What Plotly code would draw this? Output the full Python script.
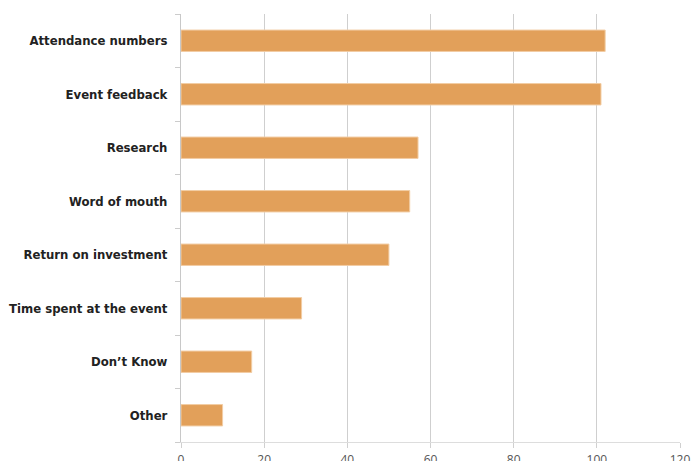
import plotly.graph_objects as go

# Survey: how event success is measured
categories = [
    "Attendance numbers",
    "Event feedback",
    "Research",
    "Word of mouth",
    "Return on investment",
    "Time spent at the event",
    "Don\u2019t Know",
    "Other",
]
responses = [102, 101, 57, 55, 50, 29, 17, 10]
x_ticks = [0, 20, 40, 60, 80, 100, 120]

BAR_COLOR = "#E2A05A"

fig = go.Figure(
    go.Bar(
        x=responses,
        y=categories,
        orientation="h",
        width=0.4,
        marker=dict(color=BAR_COLOR, line=dict(color="#F2CDA4", width=1)),
        hoverinfo="x+y",
    )
)

fig.update_layout(
    width=691,
    height=461,
    margin=dict(l=180.5, r=10.5, t=14, b=19),
    paper_bgcolor="white",
    plot_bgcolor="white",
    showlegend=False,
    bargap=0.6,
)

fig.update_xaxes(
    range=[0, 120],
    tickvals=x_ticks,
    ticktext=[str(v) for v in x_ticks],
    automargin=False,
    showgrid=True,
    gridcolor="#CFCFCF",
    gridwidth=1,
    zeroline=False,
    showline=True,
    linecolor="#DDDDDD",
    linewidth=1,
    ticks="outside",
    ticklen=5,
    tickcolor="#D0D0D0",
    ticklabelstandoff=2,
    tickfont=dict(family="Open Sans", size=12, color="#555555"),
)

fig.update_yaxes(
    categoryorder="array",
    categoryarray=categories[::-1],
    autorange=False,
    range=[-0.5, len(categories) - 0.5],
    automargin=False,
    showgrid=False,
    zeroline=False,
    showline=True,
    linecolor="#C8C8C8",
    linewidth=1,
    ticks="outside",
    tickson="boundaries",
    ticklen=5,
    tickcolor="#CCCCCC",
    ticklabelstandoff=10,
    tickfont=dict(family="DejaVu Sans Condensed", size=13, color="#222222",
                  weight="bold"),
)

fig.write_html("out.html")
